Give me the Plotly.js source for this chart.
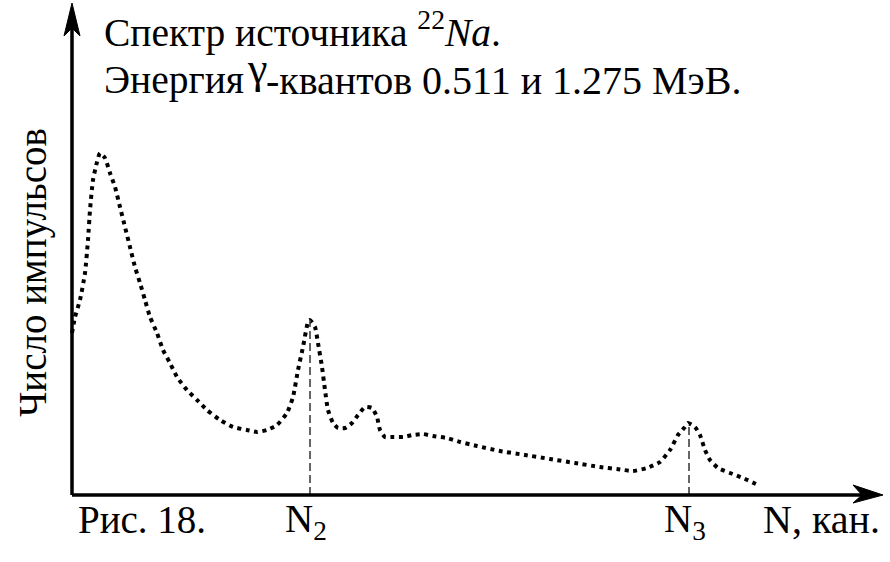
<!DOCTYPE html>
<html>
<head>
<meta charset="utf-8">
<script src="https://cdn.plot.ly/plotly-3.0.1.min.js"></script>
<style>html,body{margin:0;padding:0;background:#fff;}#chart{width:890px;height:562px;}</style>
</head>
<body>
<div id="chart"></div>
<script>
// Spectrum of 22Na: channel number vs counts (arbitrary units)
var channels = [0, 3, 8, 13, 16, 18, 21, 25, 28, 33, 38, 43, 48, 53, 58, 63, 68, 73, 78, 85, 91, 98, 105, 115, 125, 135, 148, 161, 175, 185, 195, 205, 215, 221, 226, 231, 236, 238, 243, 246, 250, 253, 256, 261, 266, 273, 280, 286, 293, 300, 305, 308, 313, 321, 331, 341, 351, 361, 375, 388, 405, 428, 453, 478, 503, 528, 545, 561, 575, 588, 598, 606, 613, 616, 623, 628, 633, 638, 646, 658, 671, 686];
var counts   = [162, 178, 195, 222, 255, 285, 315, 333, 342, 337, 322, 308, 288, 268, 248, 228, 212, 195, 178, 162, 145, 132, 118, 105, 95, 85, 75, 68, 65, 63, 65, 70, 82, 98, 125, 148, 173, 175, 168, 152, 128, 105, 85, 72, 67, 67, 72, 80, 88, 87, 78, 65, 58, 58, 58, 60, 61, 59, 57, 53, 49, 44, 40, 36, 32, 28, 26, 24, 27, 33, 45, 60, 68, 72, 68, 60, 45, 35, 27, 22, 17, 10];
// Marked peaks N2 and N3
var peakChannels = [238, 617];
var peakCounts = [175, 72];
var peakLabels = ["N<sub>2</sub>", "N<sub>3</sub>"];

var FONT = "Liberation Serif";

var traces = [{
  x: channels, y: counts, type: "scatter", mode: "lines",
  line: {color: "#000", width: 4, dash: "4px,4.5px", shape: "spline", smoothing: 0.5},
  hoverinfo: "skip", showlegend: false
}];
peakChannels.forEach(function (c, i) {
  traces.push({
    x: [c, c], y: [0, peakCounts[i]], type: "scatter", mode: "lines",
    line: {color: "#333", width: 1.5, dash: "8px,4px"},
    hoverinfo: "skip", showlegend: false
  });
});

var shapes = [
  {type: "line", xref: "x", yref: "y", x0: 0, y0: 0, x1: 790, y1: 0, line: {color: "#000", width: 3.5}},
  {type: "path", xref: "x", yref: "y", path: "M811,0 L781,10 L790,0 L781,-8 Z", fillcolor: "#000", line: {color: "#000", width: 1}},
  {type: "line", xref: "x", yref: "y", x0: 0, y0: 0, x1: 0, y1: 467, line: {color: "#000", width: 3.5}},
  {type: "path", xref: "x", yref: "y", path: "M0,492 L-8,459 L0,467 L8,459 Z", fillcolor: "#000", line: {color: "#000", width: 1}}
];

function txt(x, y, s, size, extra) {
  var a = {xref: "x", yref: "y", x: x, y: y, xanchor: "left", yanchor: "middle", showarrow: false,
    text: s, font: {family: FONT, size: size, color: "#000"}};
  for (var k in extra) a[k] = extra[k];
  return a;
}

var annotations = [
  txt(30, 466, "Спектр источника <sup>22</sup><i>Na</i>.", 39.5),
  txt(30, 415, "Энергия", 39.5),
  txt(173, 427, "γ", 44),
  txt(192, 415, "-квантов 0.511 и 1.275 МэВ.", 40),
  txt(-39, 222, "Число импульсов", 39, {xanchor: "center", textangle: -90}),
  txt(4, -24, "Рис. 18.", 39),
  txt(689, -24, "N, кан.", 40)
];
peakChannels.forEach(function (c, i) {
  annotations.push(txt(c, -26, peakLabels[i], 39, {xanchor: "center", xshift: -4}));
});

var layout = {
  width: 890, height: 562,
  margin: {l: 0, r: 0, t: 0, b: 0},
  paper_bgcolor: "#fff", plot_bgcolor: "#fff",
  font: {family: FONT},
  xaxis: {range: [-72, 818], visible: false, fixedrange: true},
  yaxis: {range: [-67, 495], visible: false, fixedrange: true},
  shapes: shapes, annotations: annotations, showlegend: false
};

Plotly.newPlot("chart", traces, layout, {staticPlot: true, displayModeBar: false});
</script>
</body>
</html>
